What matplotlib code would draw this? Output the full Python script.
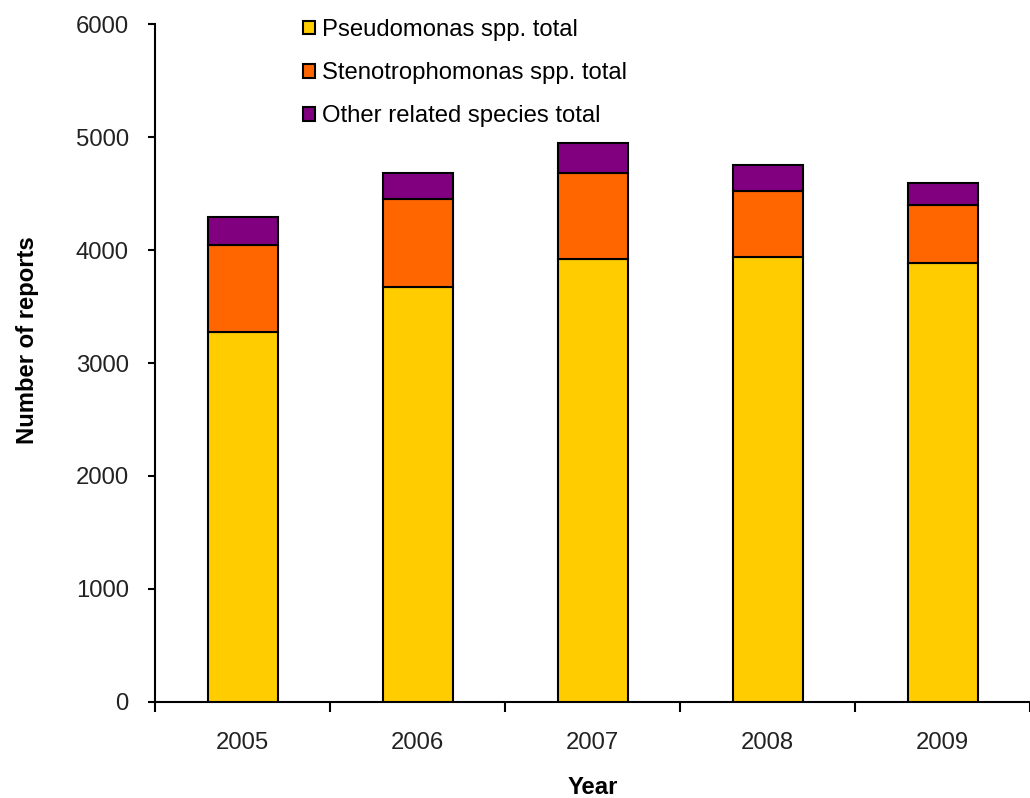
import matplotlib
matplotlib.use("Agg")
import matplotlib.pyplot as plt
import numpy as np

plt.rcParams["font.family"] = ["Liberation Sans", "DejaVu Sans"]

# values
years = ["2005", "2006", "2007", "2008", "2009"]
pseudomonas = [3277, 3672, 3919, 3937, 3884]
stenotrophomonas = [768, 778, 765, 588, 513]
other = [250, 234, 263, 233, 199]

series_labels = ["Pseudomonas spp. total", "Stenotrophomonas spp. total", "Other related species total"]
colors = ["#FFCC00", "#FF6600", "#800080"]

fig = plt.figure(figsize=(10.3, 7.98), dpi=100)
ax = fig.add_axes([0.1505, 0.1207, 0.8495, 0.8486])

x = np.arange(len(years))
bottom = np.zeros(len(years))
handles = []
for vals, lab, col in zip([pseudomonas, stenotrophomonas, other], series_labels, colors):
    h = ax.bar(x, vals, width=0.4, bottom=bottom, color=col, edgecolor="black",
               linewidth=1.5, label=lab, zorder=3)
    handles.append(h)
    bottom += np.array(vals)

ax.set_ylim(0, 6000)
ax.set_xlim(-0.5, 4.45)
ax.set_yticks(range(0, 6001, 1000))
ax.set_xticks(x)
ax.set_xticklabels(years)
ax.set_xticks(np.arange(-0.5, 5.0, 1.0), minor=True)

for s in ["top", "right"]:
    ax.spines[s].set_visible(False)
ax.spines["left"].set_linewidth(1.5)
ax.spines["bottom"].set_linewidth(1.5)

fs = 17.2
ax.tick_params(axis="y", direction="out", length=5, width=1.5, pad=14, labelsize=fs, labelcolor="#222222")
ax.tick_params(axis="x", which="major", length=0, pad=22, labelsize=fs, labelcolor="#222222")
ax.tick_params(axis="x", which="minor", direction="out", length=7, width=1.5)

ax.set_xlabel("Year", fontsize=fs, fontweight="bold", labelpad=16)
fig.text(0.027, 0.574, "Number of reports", rotation=90, fontsize=fs, fontweight="bold",
         ha="center", va="center")

leg = fig.legend(handles=handles, labels=series_labels, loc="upper left",
                 bbox_to_anchor=(0.294, 0.976), frameon=False, fontsize=fs,
                 handlelength=0.5, handleheight=0.5, handletextpad=0.3,
                 labelspacing=0.88, borderaxespad=0, borderpad=0)

fig.savefig("out.png", dpi=100)
